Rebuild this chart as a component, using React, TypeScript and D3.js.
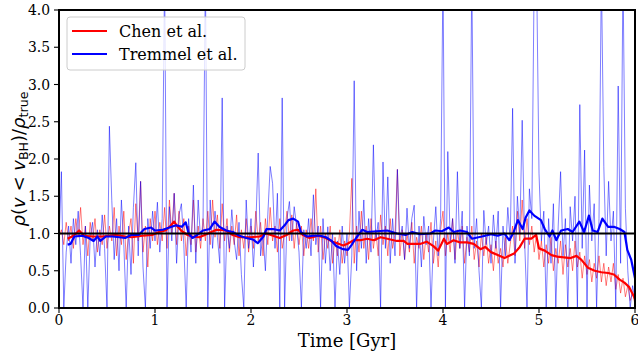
import React from 'react';
import * as d3 from 'd3';

// Raw series sampled every RAW_STEP Gyr starting at 0
const RAW_STEP = 0.025;

const chenRaw = [
  0.95, 1.05, 0.85, 1.15, 0.9, 1.1, 0.8, 1.2, 0.95, 1.35, 0.85, 1.1, 0.7, 1.15, 0.9, 1.2, 0.75, 1.05, 0.85, 1.25,
  0.8, 1.1, 0.9, 1.35, 0.7, 1.1, 0.85, 1.3, 0.65, 1.0, 1.2, 0.6, 1.4, 0.9, 1.7, 0.75, 1.1, 0.55, 1.2, 0.9,
  1.3, 0.85, 1.15, 0.9, 1.35, 0.8, 1.45, 1.0, 1.54, 0.85, 1.3, 0.9, 1.2, 0.7, 1.1, 0.85, 1.45, 0.75, 1.1, 0.8,
  1.2, 0.9, 1.3, 0.85, 1.45, 0.95, 1.25, 0.8, 1.4, 0.9, 1.2, 0.75, 1.1, 0.85, 1.25, 0.7, 1.05, 0.8, 1.2, 0.75,
  1.1, 0.8, 1.3, 0.9, 1.15, 0.7, 1.2, 0.85, 1.35, 0.9, 1.1, 0.75, 1.2, 0.8, 1.0, 1.3, 0.9, 1.25, 0.8, 1.15,
  0.85, 1.1, 0.7, 1.05, 0.8, 1.2, 0.9, 1.6, 0.75, 1.1, 0.65, 1.0, 0.8, 1.1, 0.6, 0.95, 0.7, 1.05, 0.6, 0.9,
  0.7, 1.0, 1.74, 0.6, 1.1, 0.75, 1.3, 0.8, 1.1, 0.65, 1.2, 0.8, 1.05, 0.7, 1.25, 0.85, 1.1, 0.7, 1.2, 0.8,
  1.0, 1.86, 0.7, 1.05, 0.65, 1.0, 0.75, 1.15, 0.6, 0.95, 0.8, 1.1, 0.65, 1.0, 0.75, 1.15, 0.6, 0.9, 0.55, 1.05,
  1.3, 0.7, 1.0, 0.75, 1.2, 0.65, 1.05, 0.8, 1.1, 0.6, 0.95, 0.75, 1.1, 0.65, 0.9, 0.55, 1.0, 0.7, 0.95, 0.6,
  0.85, 0.5, 0.9, 0.6, 0.8, 0.55, 0.95, 0.6, 0.85, 1.1, 0.7, 1.3, 0.9, 1.45, 0.8, 1.2, 0.85, 1.1, 0.75, 1.0,
  0.65, 0.9, 0.55, 0.85, 0.6, 0.95, 0.5, 0.8, 0.6, 0.9, 0.45, 0.85, 0.55, 0.8, 0.5, 0.9, 0.55, 0.75, 0.4, 0.7,
  0.45, 0.65, 0.35, 0.6, 0.4, 0.7, 0.35, 0.6, 0.3, 0.55, 0.35, 0.6, 0.25, 0.45, 0.2, 0.4, 0.15, 0.3, 0.1, 0.2,
  0.05,
];

const tremmelRaw = [
  0.9, 1.83, 0.0, 0.75, 1.1, 0.6, 1.2, 0.85, 1.3, 0.7, 0.0, 1.1, 0.0, 0.95, 1.15, 0.55, 1.05, 0.7, 1.25, 0.8,
  0.0, 2.44, 1.44, 0.65, 1.2, 0.5, 1.45, 0.85, 0.0, 1.1, 0.45, 1.35, 1.95, 0.7, 1.7, 0.55, 0.0, 1.2, 0.8, 1.3,
  0.9, 1.42, 0.75, 1.2, 4.5, 0.0, 1.36, 0.9, 1.54, 0.6, 1.25, 1.4, 0.85, 0.0, 1.2, 0.75, 1.65, 0.6, 1.45, 0.9,
  1.1, 4.5, 0.0, 1.45, 0.8, 1.3, 0.95, 0.6, 2.82, 0.0, 1.1, 0.8, 1.32, 0.9, 0.65, 1.15, 0.45, 0.0, 1.45, 0.8,
  1.2, 0.55, 1.1, 2.08, 0.7, 1.0, 0.5, 1.25, 1.9, 1.67, 0.8, 1.54, 0.0, 2.82, 0.0, 1.2, 1.43, 0.9, 1.36, 1.1,
  0.75, 0.0, 1.05, 0.8, 1.2, 0.7, 1.52, 0.85, 1.1, 0.0, 1.2, 0.6, 1.09, 0.5, 1.0, 0.0, 0.9, 0.45, 1.1, 0.6,
  1.0, 0.0, 0.7, 3.05, 0.5, 1.3, 0.8, 1.45, 0.6, 1.2, 0.75, 2.19, 0.9, 1.15, 0.0, 1.96, 0.8, 1.76, 0.6, 1.2,
  0.7, 1.86, 0.9, 1.1, 0.65, 1.34, 0.8, 1.2, 1.38, 0.0, 1.1, 0.55, 1.23, 0.85, 1.1, 0.0, 0.9, 1.36, 0.7, 1.2,
  4.5, 0.0, 2.1, 0.9, 1.2, 0.6, 1.83, 0.8, 1.3, 0.0, 1.1, 0.7, 4.5, 0.8, 1.2, 0.5, 0.0, 1.31, 0.85, 1.1,
  0.6, 1.25, 0.8, 1.3, 0.0, 1.1, 0.7, 1.35, 0.9, 2.68, 0.6, 1.5, 1.0, 2.52, 0.9, 0.0, 1.6, 1.2, 4.5, 4.5,
  1.81, 0.9, 1.3, 0.0, 1.2, 0.6, 1.4, 0.0, 1.1, 1.83, 0.7, 1.2, 0.0, 1.36, 0.9, 1.5, 0.0, 2.73, 0.8, 2.12,
  0.0, 1.65, 0.9, 1.4, 0.0, 1.2, 4.5, 1.9, 0.7, 1.7, 0.9, 1.3, 0.0, 2.98, 0.6, 4.5, 1.34, 0.5, 0.0, 0.3,
  0.1,
];

const chenSmoothT = [
  0.09, 0.15, 0.21, 0.26, 0.35, 0.45, 0.52, 0.59, 0.69, 0.76, 0.87, 0.97, 1.04, 1.11, 1.16, 1.2, 1.23, 1.28, 1.34, 1.39,
  1.46, 1.5, 1.57, 1.64, 1.74, 1.81, 1.88, 1.99, 2.09, 2.16, 2.23, 2.3, 2.37, 2.44, 2.49, 2.54, 2.61, 2.7, 2.78, 2.85,
  2.92, 2.96, 3.0, 3.07, 3.14, 3.21, 3.28, 3.35, 3.42, 3.52, 3.59, 3.63, 3.69, 3.76, 3.83, 3.9, 3.95, 4.01, 4.04, 4.11,
  4.18, 4.25, 4.32, 4.39, 4.44, 4.5, 4.57, 4.64, 4.69, 4.74, 4.8, 4.85, 4.92, 4.97, 5.0, 5.06, 5.13, 5.19, 5.26, 5.33,
  5.39, 5.44, 5.51, 5.58, 5.65, 5.72, 5.78, 5.84, 5.89, 5.94, 5.99, 6.0,
];
const chenSmoothV = [
  0.93, 0.97, 1.04, 0.97, 0.96, 0.96, 0.97, 0.98, 0.96, 0.95, 0.97, 0.98, 1.02, 1.04, 1.1, 1.16, 1.1, 1.03, 0.98, 0.96,
  0.95, 0.97, 1.01, 1.05, 1.04, 0.98, 0.95, 0.95, 0.96, 1.0, 0.97, 0.94, 0.98, 1.04, 1.05, 0.98, 0.94, 0.97, 0.94, 0.89,
  0.86, 0.84, 0.86, 0.91, 0.91, 0.93, 0.91, 0.95, 0.93, 0.9, 0.9, 0.86, 0.86, 0.86, 0.89, 0.83, 0.77, 0.93, 0.86, 0.91,
  0.88, 0.88, 0.86, 0.79, 0.82, 0.75, 0.71, 0.67, 0.7, 0.73, 0.82, 0.93, 0.93, 0.98, 0.8, 0.77, 0.71, 0.69, 0.68, 0.67,
  0.7, 0.65, 0.54, 0.5, 0.48, 0.47, 0.45, 0.38, 0.34, 0.28, 0.15, 0.12,
];

const tremmelSmoothT = [
  0.09, 0.12, 0.16, 0.24, 0.31, 0.36, 0.4, 0.43, 0.49, 0.56, 0.63, 0.69, 0.75, 0.83, 0.89, 0.96, 1.0, 1.08, 1.15, 1.22,
  1.28, 1.32, 1.35, 1.39, 1.44, 1.5, 1.57, 1.62, 1.67, 1.74, 1.81, 1.88, 1.95, 2.02, 2.07, 2.13, 2.16, 2.23, 2.3, 2.35,
  2.39, 2.44, 2.49, 2.52, 2.58, 2.65, 2.72, 2.78, 2.84, 2.89, 2.96, 3.01, 3.05, 3.1, 3.16, 3.21, 3.31, 3.42, 3.52, 3.61,
  3.68, 3.76, 3.87, 3.92, 3.99, 4.06, 4.11, 4.18, 4.25, 4.3, 4.37, 4.44, 4.5, 4.57, 4.64, 4.69, 4.73, 4.78, 4.83, 4.86,
  4.9, 4.95, 5.02, 5.06, 5.11, 5.14, 5.18, 5.23, 5.3, 5.35, 5.42, 5.47, 5.52, 5.56, 5.61, 5.66, 5.72, 5.78, 5.84, 5.89,
  5.92, 5.96, 6.0,
];
const tremmelSmoothV = [
  0.85, 0.86, 0.96, 0.97, 0.94, 0.9, 0.96, 0.9, 0.96, 0.96, 0.95, 0.94, 0.98, 0.98, 1.06, 1.08, 1.04, 1.05, 1.08, 1.11,
  1.09, 1.15, 1.0, 0.94, 0.98, 1.04, 1.06, 1.16, 1.09, 1.04, 1.02, 0.97, 0.94, 0.92, 0.87, 0.96, 1.06, 1.06, 1.04, 1.11,
  1.18, 1.2, 1.16, 1.02, 0.96, 0.97, 0.97, 0.95, 0.9, 0.83, 0.79, 0.78, 0.85, 0.95, 1.05, 1.02, 1.03, 1.04, 1.0, 0.98,
  1.02, 0.99, 1.0, 1.04, 1.03, 1.08, 1.02, 1.04, 1.02, 0.93, 0.95, 0.97, 0.99, 0.97, 1.0, 0.91, 1.0, 1.18, 1.06, 1.21,
  1.31, 1.24, 1.18, 1.06, 0.96, 1.04, 0.91, 1.04, 1.06, 1.02, 1.16, 1.02, 1.24, 1.04, 1.02, 1.2, 1.09, 1.09, 1.06, 1.02,
  0.78, 0.65, 0.4,
];

const xTicks = [0, 1, 2, 3, 4, 5, 6];
const yTicks = [0, 0.5, 1, 1.5, 2, 2.5, 3, 3.5, 4];
const legendLabels = ['Chen et al.', 'Tremmel et al.'];
const REF_LEVEL = 1;

const W = 638;
const H = 353;
const SERIF = "'DejaVu Serif', serif";
const SANS = "'DejaVu Sans', sans-serif";

export default function App() {
  const x = d3.scaleLinear().domain([0, 6]).range([59, 635]);
  const y = d3.scaleLinear().domain([0, 4]).range([308, 10]);

  const rawLine = d3
    .line<number>()
    .x((_, i) => x(i * RAW_STEP))
    .y((d) => y(d));

  const smoothLine = (ts: number[], vs: number[]) =>
    d3
      .line<number>()
      .x((d) => x(d))
      .y((_, i) => y(vs[i]))(ts) || '';

  const [x0, x1] = x.range();
  const [yb, yt] = y.range();

  return (
    <svg
      width={W}
      height={H}
      style={{ position: 'fixed', left: 0, top: 0, background: '#fff' }}
    >
      <defs>
        <clipPath id="plotclip">
          <rect x={x0} y={yt} width={x1 - x0} height={yb - yt} />
        </clipPath>
      </defs>
      <rect x={0} y={0} width={W} height={H} fill="#fff" />
      <g clipPath="url(#plotclip)">
        <path d={rawLine(chenRaw) || ''} fill="none" stroke="#ff0000" strokeOpacity={0.5} strokeWidth={1} />
        <path d={rawLine(tremmelRaw) || ''} fill="none" stroke="#0000ff" strokeOpacity={0.5} strokeWidth={1} />
        <path d={smoothLine(chenSmoothT, chenSmoothV)} fill="none" stroke="#ff0000" strokeWidth={2.2} strokeLinejoin="round" />
        <path d={smoothLine(tremmelSmoothT, tremmelSmoothV)} fill="none" stroke="#0000ff" strokeWidth={2.2} strokeLinejoin="round" />
        <line x1={x0} x2={x1} y1={y(REF_LEVEL)} y2={y(REF_LEVEL)} stroke="#000" strokeWidth={2} />
      </g>

      {/* ticks */}
      {xTicks.map((t) => (
        <g key={'xt' + t}>
          <line x1={x(t)} x2={x(t)} y1={yb} y2={yb + 5} stroke="#000" strokeWidth={1.1} />
          <text x={x(t)} y={yb + 17} textAnchor="middle" fontFamily={SERIF} fontSize={13.9} fill="#000">
            {t}
          </text>
        </g>
      ))}
      {yTicks.map((t) => (
        <g key={'yt' + t}>
          <line x1={x0 - 5} x2={x0} y1={y(t)} y2={y(t)} stroke="#000" strokeWidth={1.1} />
          <text x={x0 - 9} y={y(t) + 5} textAnchor="end" fontFamily={SERIF} fontSize={13.9} fill="#000">
            {t.toFixed(1)}
          </text>
        </g>
      ))}

      {/* spines */}
      <rect x={x0} y={yt} width={x1 - x0} height={yb - yt} fill="none" stroke="#000" strokeWidth={2} />

      {/* axis labels */}
      <text x={(x0 + x1) / 2} y={347} textAnchor="middle" fontFamily={SERIF} fontSize={18} fill="#000">
        Time [Gyr]
      </text>
      <text transform={`translate(25,${(yt + yb) / 2}) rotate(-90)`} textAnchor="middle" fontFamily={SANS} fontSize={18} fill="#000">
        <tspan fontStyle="italic">ρ</tspan>
        <tspan>(</tspan>
        <tspan fontStyle="italic">v</tspan>
        <tspan> &lt; </tspan>
        <tspan fontStyle="italic">v</tspan>
        <tspan fontSize={12.6} dy={3}>BH</tspan>
        <tspan dy={-3}>)/</tspan>
        <tspan fontStyle="italic">ρ</tspan>
        <tspan fontSize={12.6} dy={3}>true</tspan>
      </text>

      {/* legend */}
      <g>
        <rect x={67} y={17} width={178} height={53} rx={3} fill="#fff" fillOpacity={0.8} stroke="#cccccc" strokeWidth={1} />
        {legendLabels.map((lab, i) => (
          <g key={lab}>
            <line x1={72} x2={107} y1={31 + i * 23} y2={31 + i * 23} stroke={i === 0 ? '#ff0000' : '#0000ff'} strokeWidth={2.2} />
            <text x={119} y={37 + i * 23} fontFamily={SERIF} fontSize={16} fill="#000">
              {lab}
            </text>
          </g>
        ))}
      </g>
    </svg>
  );
}
